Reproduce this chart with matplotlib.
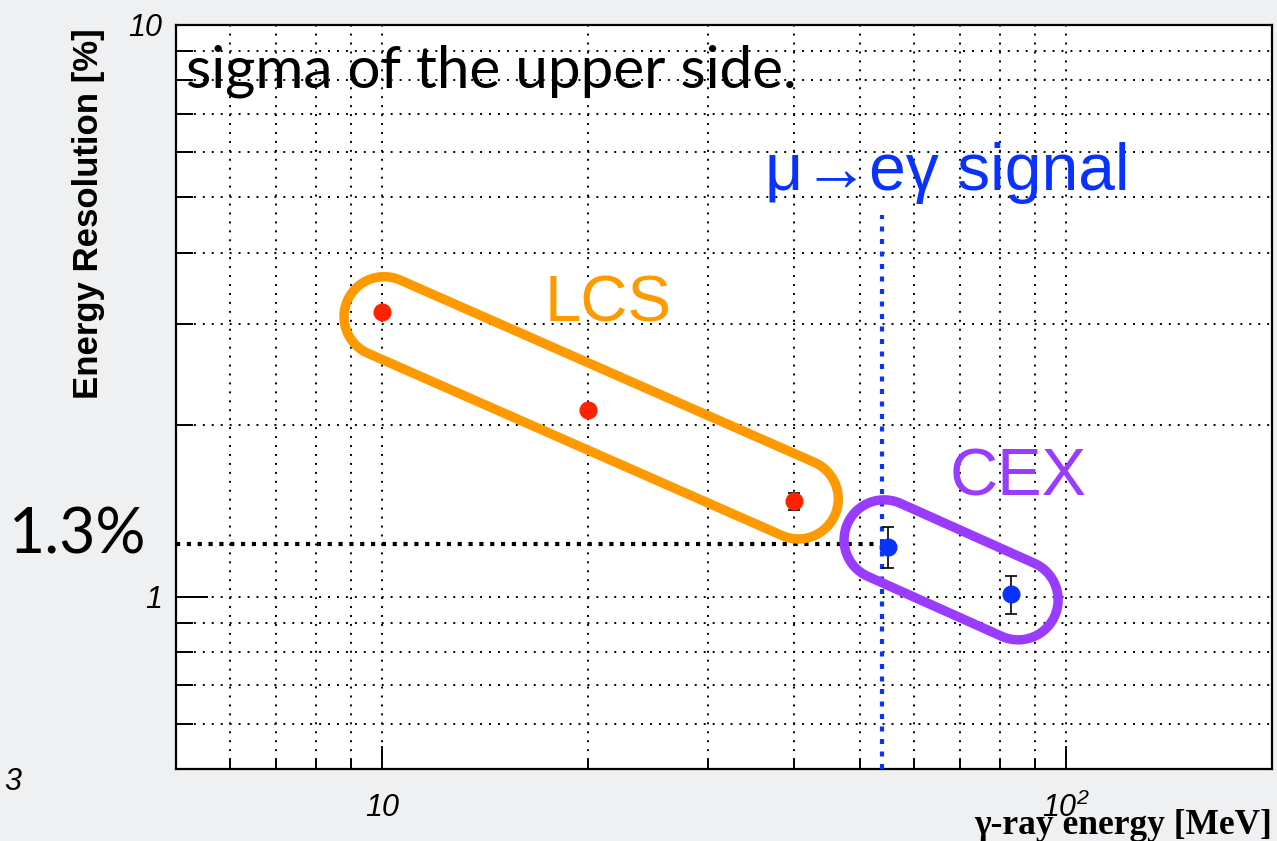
import numpy as np
import matplotlib
matplotlib.use("Agg")
import matplotlib.pyplot as plt
from matplotlib.path import Path
from matplotlib.patches import PathPatch
from matplotlib.ticker import LogLocator, NullFormatter, FixedLocator, FixedFormatter
from matplotlib.transforms import IdentityTransform

plt.rcParams['mathtext.fontset'] = 'custom'
plt.rcParams['mathtext.it'] = 'Liberation Sans:italic'
plt.rcParams['mathtext.rm'] = 'Liberation Sans:italic'

# ---- data ----
lcs_energy = [10, 20, 40]
lcs_res = [3.15, 2.12, 1.47]
lcs_err = [0.03, 0.03, 0.05]

cex_energy = [55, 83]
cex_res = [1.224, 1.012]
cex_err = [0.10, 0.077]

signal_energy = 53.9
signal_top = 4.65
ref_level = 1.238
ref_level_end = 54.9

x_limits = (5, 200)
y_limits = (0.5, 10)
x_major = [10, 100]
x_major_labels = ['10', r'$\mathit{10}^{\mathit{2}}$']
y_major = [1, 10]
y_major_labels = ['1', '10']

# group outlines (cap centres, data coords)
lcs_group = [(10.07, 3.09), (40.6, 1.483)]
cex_group = [(54.2, 1.258), (85.1, 0.988)]

W, H = 1277, 841
fig = plt.figure(figsize=(W / 100, H / 100), dpi=100, facecolor='#eff0f2')
ax = fig.add_axes([176 / W, 1 - 769 / H, (1272 - 176) / W, (769 - 25) / H])
ax.set_facecolor('white')
ax.set_xscale('log')
ax.set_yscale('log')
ax.set_xlim(*x_limits)
ax.set_ylim(*y_limits)

ax.xaxis.set_major_locator(FixedLocator(x_major))
ax.xaxis.set_major_formatter(FixedFormatter(x_major_labels))
ax.yaxis.set_major_locator(FixedLocator(y_major))
ax.yaxis.set_major_formatter(FixedFormatter(y_major_labels))
ax.xaxis.set_minor_locator(LogLocator(base=10, subs=np.arange(2, 10)))
ax.yaxis.set_minor_locator(LogLocator(base=10, subs=np.arange(2, 10)))
ax.xaxis.set_minor_formatter(NullFormatter())
ax.yaxis.set_minor_formatter(NullFormatter())

ax.tick_params(axis='both', which='both', direction='in', top=False, right=False,
               color='black', width=1.4)
ax.tick_params(axis='y', which='major', length=23, pad=10)
ax.tick_params(axis='y', which='minor', length=12)
ax.tick_params(axis='x', which='major', length=16.5, pad=17)
ax.tick_params(axis='x', which='minor', length=7)
for lab in ax.get_xticklabels() + ax.get_yticklabels():
    lab.set_fontfamily('Liberation Sans')
    lab.set_fontstyle('italic')
    lab.set_fontsize(22)

for sp in ax.spines.values():
    sp.set_linewidth(1.6)
    sp.set_color('black')

ax.grid(which='both', linestyle=(0, (1, 3.6)), color='black', linewidth=1.4)
ax.set_axisbelow(True)

# reference dotted line
ax.plot([x_limits[0], ref_level_end], [ref_level, ref_level], color='black',
        linewidth=3, linestyle=(0, (1, 1.6)), solid_capstyle='butt',
        dash_capstyle='butt', zorder=3)

# signal line
ax.plot([signal_energy, signal_energy], [y_limits[0], signal_top], color='#0a32ff',
        linewidth=3, linestyle=(0, (1.2, 1.8)), dash_capstyle='butt', zorder=3)

# data
ax.errorbar(lcs_energy, lcs_res, yerr=lcs_err, fmt='o', color='#ff2200',
            markersize=12, ecolor='black', elinewidth=1.2, capsize=4, capthick=1.2,
            zorder=5)
ax.errorbar(cex_energy, cex_res, yerr=cex_err, fmt='o', color='#0a32ff',
            markersize=12, ecolor='black', elinewidth=1.2, capsize=4, capthick=1.2,
            zorder=5)

# stadium outlines
fig.canvas.draw()


def stadium(p1, p2, radius_px, color, lw):
    a = ax.transData.transform(p1)
    b = ax.transData.transform(p2)
    d = b - a
    ang = np.arctan2(d[1], d[0])
    pts = []
    t1 = np.linspace(ang + np.pi / 2, ang + 3 * np.pi / 2, 60)
    for t in t1:
        pts.append(a + radius_px * np.array([np.cos(t), np.sin(t)]))
    t2 = np.linspace(ang - np.pi / 2, ang + np.pi / 2, 60)
    for t in t2:
        pts.append(b + radius_px * np.array([np.cos(t), np.sin(t)]))
    pts.append(pts[0])
    path = Path(np.array(pts))
    patch = PathPatch(path, facecolor='none', edgecolor=color, linewidth=lw,
                      transform=IdentityTransform(), zorder=4, clip_on=False)
    fig.add_artist(patch)


stadium(lcs_group[0], lcs_group[1], 40, '#ff9900', 6.8)
stadium(cex_group[0], cex_group[1], 40, '#9a3cff', 6.8)

# texts
def fx(px):
    return px / W


def fy(py):
    return 1 - py / H


fig.text(fx(186), fy(88), 'sigma of the upper side.', fontfamily='Lato',
         fontsize=42, color='black', va='baseline', ha='left')
fig.text(fx(146), fy(554), '1.3%', fontfamily='Lato', fontsize=45,
         color='black', va='baseline', ha='right')
fig.text(fx(765), fy(190), 'μ→eγ signal', family=['Liberation Sans', 'DejaVu Sans'],
         fontsize=47.5, color='#0a32ff', va='baseline', ha='left')
fig.text(fx(545), fy(322), 'LCS', fontfamily='Liberation Sans', fontsize=47,
         color='#ff9900', va='baseline', ha='left')
fig.text(fx(950), fy(495), 'CEX', fontfamily='Liberation Sans', fontsize=48,
         color='#9a3cff', va='baseline', ha='left')

fig.text(fx(98), fy(214), 'Energy Resolution [%]', fontfamily='Liberation Sans',
         fontweight='bold', fontsize=25, rotation=90, rotation_mode='anchor',
         ha='center', va='baseline')
fig.text(fx(1272), fy(834), 'γ-ray energy [MeV]', fontfamily='Liberation Serif',
         fontweight='bold', fontsize=25.5, ha='right', va='baseline')
fig.text(fx(4), fy(790), '3', fontfamily='Liberation Sans', fontstyle='italic',
         fontsize=22, ha='left', va='baseline')

fig.savefig('out.png', dpi=100, facecolor=fig.get_facecolor())
